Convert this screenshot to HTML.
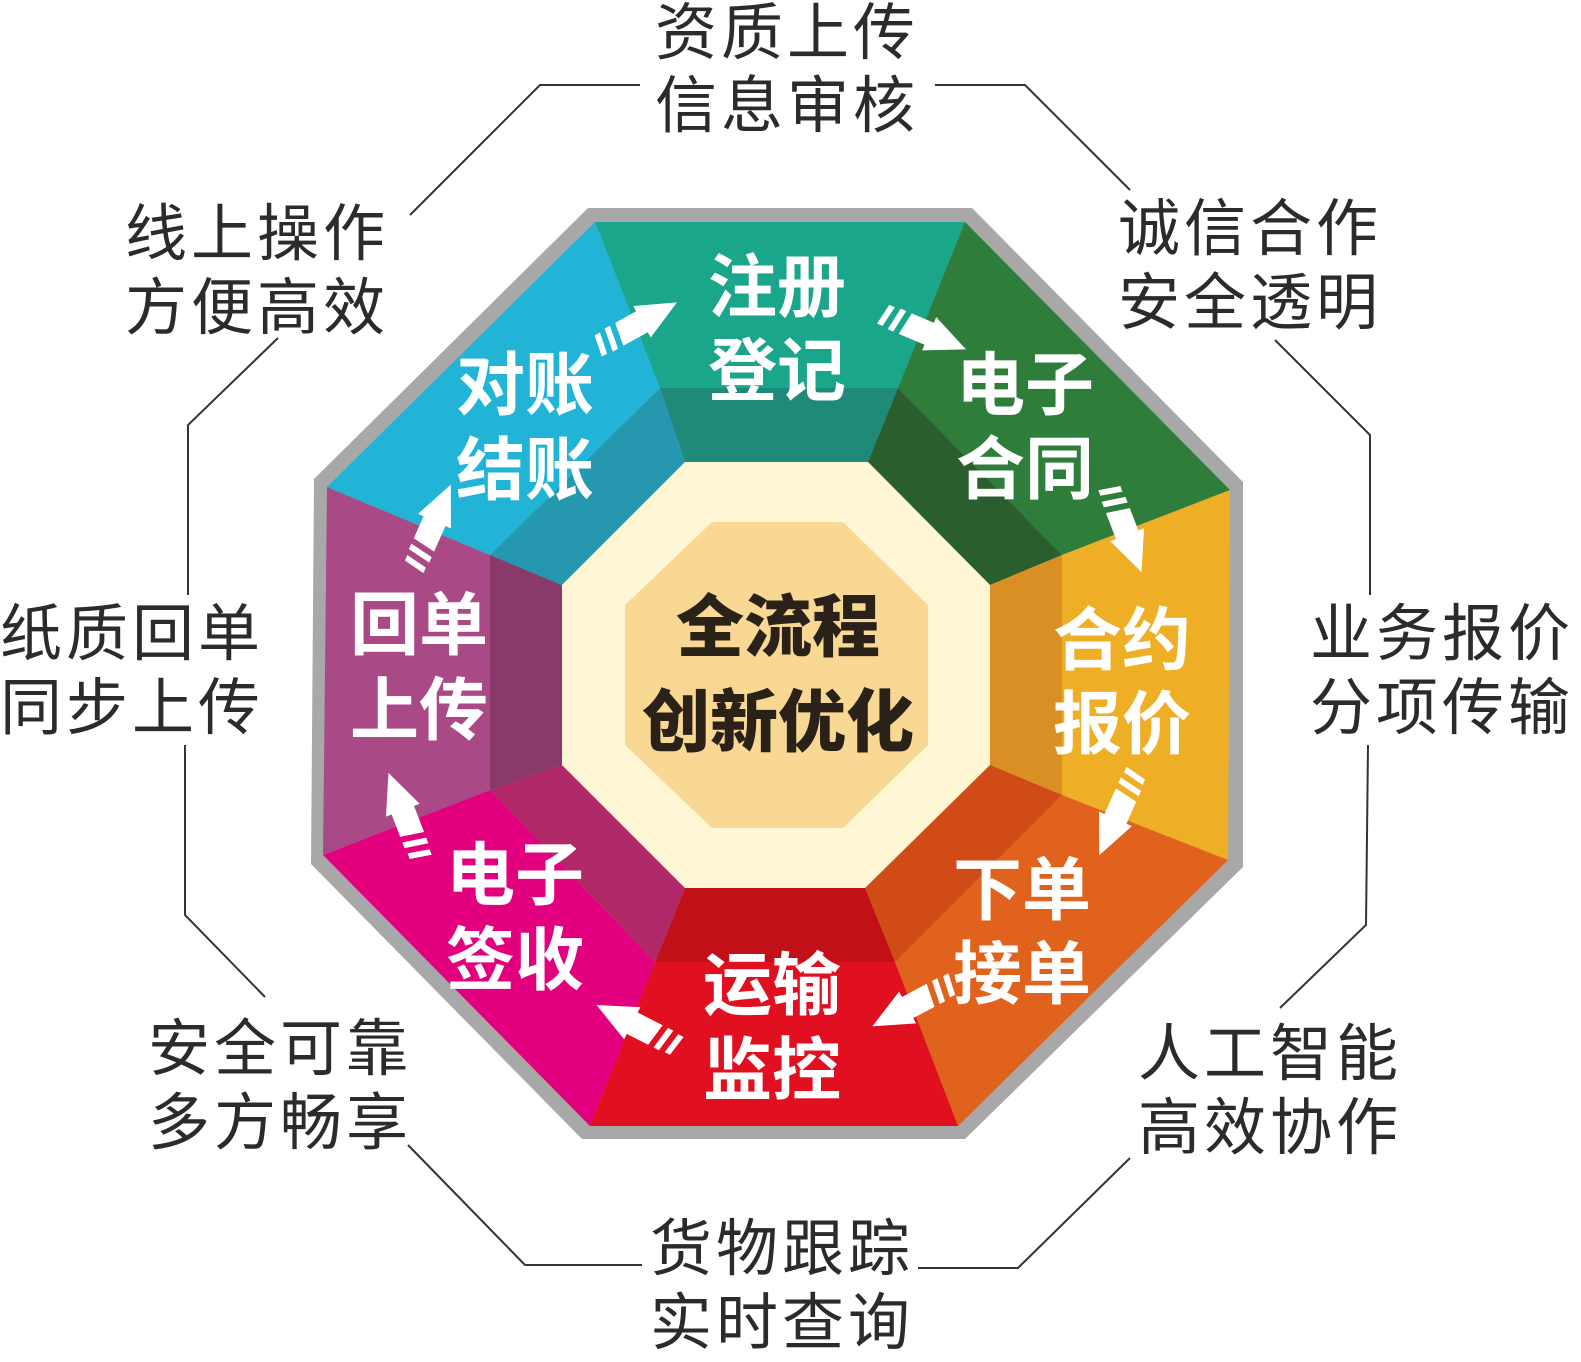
<!DOCTYPE html>
<html><head><meta charset="utf-8">
<style>
html,body{margin:0;padding:0;background:#fff;}
svg{display:block;}
.o{font-family:"Liberation Sans","Noto Sans CJK SC",sans-serif;font-size:62px;fill:#2b2b2b;letter-spacing:4px;}
.w{font-family:"Liberation Sans","Noto Sans CJK SC",sans-serif;font-size:69px;font-weight:bold;fill:#fff;}
.c{font-family:"Liberation Sans","Noto Sans CJK SC",sans-serif;font-size:68px;font-weight:900;fill:#2a2118;}
</style></head><body>
<svg width="1581" height="1362" viewBox="0 0 1581 1362" xmlns="http://www.w3.org/2000/svg">
<defs>
<g id="ar">
<polygon points="0,-11 6,-11 2,11 -4,11" fill="#fff"/>
<polygon points="12,-12 18,-12 14,12 8,12" fill="#fff"/>
<polygon points="24,-12 48,-12 48,-18 88,0 48,18 48,12 20,12" fill="#fff"/>
</g>
</defs>
<polygon points="588,208 972,208 1243,482 1243,867 965,1139 582,1139 311,864 314,479" fill="#a8a8a8"/>
<polygon points="595,222 965,222 898,388 660,388" fill="#1aa68a"/>
<polygon points="965,222 1230,490 1062,555 898,388" fill="#2f7d3a"/>
<polygon points="1230,490 1228,860 1062,795 1062,555" fill="#eeae25"/>
<polygon points="1228,860 958,1126 895,962 1062,795" fill="#e0621c"/>
<polygon points="958,1126 590,1126 655,962 895,962" fill="#e01020"/>
<polygon points="590,1126 323,855 490,790 655,962" fill="#e2007f"/>
<polygon points="323,855 327,487 490,555 490,790" fill="#a94a86"/>
<polygon points="327,487 595,222 660,388 490,555" fill="#22b4d6"/>
<polygon points="660,388 898,388 868,462 685,462" fill="#1f8a78"/>
<polygon points="898,388 1062,555 990,585 868,462" fill="#2a5e2e"/>
<polygon points="1062,555 1062,795 990,765 990,585" fill="#d98f23"/>
<polygon points="1062,795 895,962 865,888 990,765" fill="#d04b15"/>
<polygon points="895,962 655,962 685,888 865,888" fill="#c21018"/>
<polygon points="655,962 490,790 562,765 685,888" fill="#b02868"/>
<polygon points="490,790 490,555 562,585 562,765" fill="#8a3a6a"/>
<polygon points="490,555 660,388 685,462 562,585" fill="#2598b0"/>
<polygon points="685,462 868,462 990,585 990,765 865,888 685,888 562,765 562,585" fill="#fff6d5"/>
<polygon points="712,522 843,522 928,605 928,745 843,828 712,828 625,745 625,605" fill="#f9d894"/>
<text class="c" x="778" y="651" text-anchor="middle">全流程</text>
<text class="c" x="778" y="746" text-anchor="middle">创新优化</text>
<g class="w">
<text x="708" y="311">注册</text><text x="708" y="395">登记</text>
<text x="956" y="409">电子</text><text x="956" y="493">合同</text>
<text x="1053" y="664">合约</text><text x="1053" y="748">报价</text>
<text x="953" y="914">下单</text><text x="953" y="998">接单</text>
<text x="703" y="1009">运输</text><text x="703" y="1094">监控</text>
<text x="446" y="899">电子</text><text x="446" y="984">签收</text>
<text x="350" y="649">回单</text><text x="350" y="734">上传</text>
<text x="456" y="409">对账</text><text x="456" y="494">结账</text>
</g>
<use href="#ar" transform="translate(600,345) rotate(-29)"/>
<use href="#ar" transform="translate(885,315) rotate(23)"/>
<use href="#ar" transform="translate(1110,490) rotate(69)"/>
<use href="#ar" transform="translate(1135,775) rotate(114)"/>
<use href="#ar" transform="translate(950,985) rotate(152)"/>
<use href="#ar" transform="translate(675,1045) rotate(207)"/>
<use href="#ar" transform="translate(420,855) rotate(249)"/>
<use href="#ar" transform="translate(415,565) rotate(-66)"/>
<g fill="none" stroke="#333" stroke-width="2">
<polyline points="410,215 540,85 640,85"/>
<polyline points="935,85 1025,85 1130,190"/>
<polyline points="1275,340 1370,435 1370,595"/>
<polyline points="1368,745 1366,925 1280,1008"/>
<polyline points="1130,1158 1018,1268 918,1268"/>
<polyline points="642,1265 525,1265 408,1145"/>
<polyline points="265,997 185,915 185,745"/>
<polyline points="188,595 188,425 278,338"/>
</g>
<g class="o">
<text x="655" y="54">资质上传</text><text x="655" y="127">信息审核</text>
<text x="1118" y="250">诚信合作</text><text x="1118" y="324">安全透明</text>
<text x="125" y="255">线上操作</text><text x="125" y="329">方便高效</text>
<text x="0" y="655">纸质回单</text><text x="0" y="729">同步上传</text>
<text x="1310" y="655">业务报价</text><text x="1310" y="729">分项传输</text>
<text x="148" y="1070">安全可靠</text><text x="148" y="1144">多方畅享</text>
<text x="1138" y="1075">人工智能</text><text x="1138" y="1149">高效协作</text>
<text x="650" y="1270">货物跟踪</text><text x="650" y="1344">实时查询</text>
</g>
</svg>
</body></html>
